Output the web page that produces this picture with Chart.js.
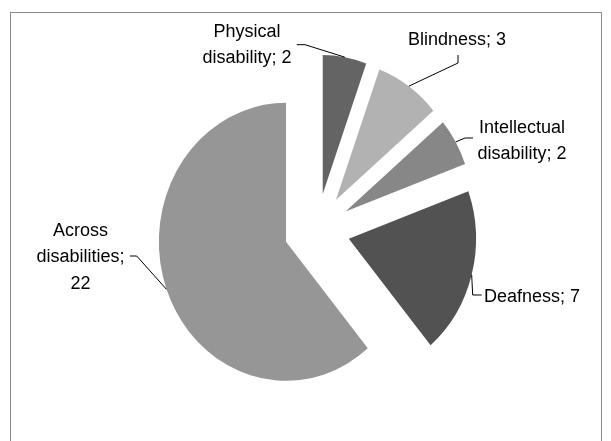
<!DOCTYPE html>
<html>
<head>
<meta charset="utf-8">
<script src="https://cdn.jsdelivr.net/npm/chart.js@4.4.1/dist/chart.umd.min.js"></script>
<style>
  html, body { margin: 0; padding: 0; background: #fff; }
  #wrap { width: 611px; height: 441px; }
</style>
</head>
<body>
<div id="wrap"><canvas id="myChart" width="611" height="441"></canvas></div>
<script>
const categories = ['Physical disability', 'Blindness', 'Intellectual disability', 'Deafness', 'Across disabilities'];
const counts = [2, 3, 2, 7, 22];
const sliceColors = ['#646464', '#b2b2b2', '#878787', '#525252', '#969696'];

// every slice is pulled out the same distance; pie is a bit narrower than tall
const EXPLODE = 36;
const SQUASH_X = 0.915;

// label placement (first line centre) and the two bend points of its leader line
const labelLayout = [
  { x: 247, y: 31.7, align: 'center', wrap: true, ownLine: false, bend: [[296.7, 44.7], [305, 44.7]] },
  { x: 408, y: 40, align: 'left', wrap: false, ownLine: false, bend: [[458, 55], [458, 63]] },
  { x: 522, y: 128, align: 'center', wrap: true, ownLine: false, bend: [[473, 138], [465, 138]] },
  { x: 484, y: 296.7, align: 'left', wrap: false, ownLine: false, bend: [[481.7, 295], [472.7, 295]] },
  { x: 80.5, y: 231, align: 'center', wrap: true, ownLine: true, bend: [[130, 256], [136.7, 256]] }
];
const LINE_H = 26.5;

function labelLines(i) {
  const l = labelLayout[i];
  const parts = l.wrap ? categories[i].split(' ') : [categories[i]];
  if (l.ownLine) {
    parts[parts.length - 1] += ';';
    parts.push(String(counts[i]));
  } else {
    parts[parts.length - 1] += '; ' + counts[i];
  }
  return parts;
}

const framePlugin = {
  id: 'frame',
  beforeDraw(chart) {
    const ctx = chart.ctx;
    ctx.save();
    ctx.fillStyle = '#ffffff';
    ctx.fillRect(0, 0, chart.width, chart.height);
    ctx.strokeStyle = '#8a8a8a';
    ctx.lineWidth = 1;
    ctx.strokeRect(10.5, 12.5, 591, 440);
    ctx.restore();
  }
};

// draw each arc ourselves: squash sideways, then push it out along its middle angle
const explodePlugin = {
  id: 'explode',
  beforeDatasetsDraw(chart) {
    const ctx = chart.ctx;
    const arcs = chart.getDatasetMeta(0).data;
    arcs.forEach(function(arc) {
      const mid = (arc.startAngle + arc.endAngle) / 2;
      ctx.save();
      ctx.translate(arc.x, arc.y);
      ctx.scale(SQUASH_X, 1);
      ctx.translate(-arc.x, -arc.y);
      ctx.translate(Math.cos(mid) * EXPLODE, Math.sin(mid) * EXPLODE);
      arc.draw(ctx);
      ctx.restore();
    });
    return false;
  }
};

const labelPlugin = {
  id: 'pieLabels',
  afterDraw(chart) {
    const ctx = chart.ctx;
    const arcs = chart.getDatasetMeta(0).data;
    ctx.save();
    ctx.font = '18px "Liberation Sans", Arial, sans-serif';
    ctx.fillStyle = '#000';
    ctx.textBaseline = 'middle';
    ctx.strokeStyle = '#000';
    ctx.lineWidth = 1;
    arcs.forEach(function(arc, i) {
      const l = labelLayout[i];
      const mid = (arc.startAngle + arc.endAngle) / 2;
      const d = arc.outerRadius + EXPLODE;
      const ex = arc.x + Math.cos(mid) * d * SQUASH_X;
      const ey = arc.y + Math.sin(mid) * d;
      ctx.beginPath();
      ctx.moveTo(l.bend[0][0], l.bend[0][1]);
      ctx.lineTo(l.bend[1][0], l.bend[1][1]);
      ctx.lineTo(ex, ey);
      ctx.stroke();
      ctx.textAlign = l.align;
      labelLines(i).forEach(function(t, k) {
        ctx.fillText(t, l.x, l.y + k * LINE_H);
      });
    });
    ctx.restore();
  }
};

const chart = new Chart(document.getElementById('myChart'), {
  type: 'pie',
  data: {
    labels: categories,
    datasets: [{
      data: counts,
      backgroundColor: sliceColors,
      borderWidth: 0,
      offset: 0
    }]
  },
  options: {
    responsive: false,
    animation: false,
    events: [],
    radius: 139,
    layout: { padding: { left: 23, right: 0, top: 18, bottom: 0 } },
    plugins: {
      legend: { display: false },
      tooltip: { enabled: false },
      title: { display: false }
    }
  },
  plugins: [framePlugin, explodePlugin, labelPlugin]
});
</script>
</body>
</html>
